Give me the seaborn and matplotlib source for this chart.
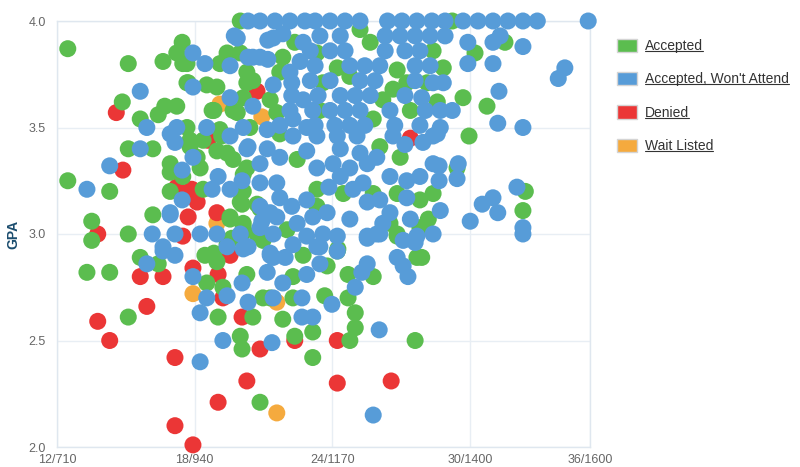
import pandas as pd
import seaborn as sns
import matplotlib.pyplot as plt
from matplotlib.patches import Patch
from matplotlib.lines import Line2D

# (SAT-scale score, GPA)
wait_listed = [(982, 3.61), (1052, 3.55), (977, 3.05), (937, 2.72), (1077, 2.68), (1077, 2.16)]

denied = [(809, 3.57), (820, 3.30), (778, 3.00), (778, 2.59), (798, 2.50), (849, 2.80), (887, 2.80),
          (860, 2.66), (907, 2.42), (907, 2.10), (937, 2.01), (979, 2.21), (1027, 2.31), (1049, 2.46),
          (1019, 2.61), (937, 2.84), (979, 2.81), (999, 2.90), (910, 3.22), (935, 3.21), (929, 3.08),
          (944, 3.15), (977, 3.10), (962, 3.44), (1044, 3.67), (920, 2.99), (987, 2.70), (1107, 2.50),
          (1178, 2.50), (1178, 2.30), (1268, 2.31), (1300, 3.45)]

accepted = [
    (728, 3.87), (829, 3.80), (819, 3.62), (849, 3.54), (879, 3.56), (890, 3.60), (910, 3.60), (887, 3.81),
    (919, 3.90), (910, 3.85), (927, 3.80), (929, 3.71), (960, 3.70), (977, 3.69), (969, 3.58), (829, 3.40),
    (870, 3.40), (728, 3.25), (798, 3.20), (768, 3.06), (870, 3.09), (899, 3.33), (899, 3.29), (899, 3.20),
    (927, 3.50), (932, 3.41), (944, 3.36), (949, 3.31), (985, 3.46), (994, 3.38), (1004, 3.35), (1011, 3.57),
    (994, 3.85), (1016, 3.85), (1027, 3.76), (1037, 3.72), (1016, 4.00), (1019, 3.14), (1021, 3.28),
    (1049, 3.12), (1021, 3.05),
    (768, 2.97), (829, 3.00), (760, 2.82), (798, 2.82), (829, 2.61), (849, 2.89), (879, 2.86), (957, 2.90),
    (977, 2.87), (960, 2.77), (987, 2.75), (979, 2.61), (1037, 2.61), (1016, 2.52), (1019, 2.46), (1027, 2.81),
    (1049, 2.21), (1087, 2.60), (1107, 2.52), (1137, 2.54), (1137, 2.42), (1157, 2.71), (1066, 2.70),
    (1104, 2.70), (1002, 2.98), (994, 2.95), (1121, 2.90), (1104, 2.80), (999, 3.07), (1044, 3.00),
    (1019, 3.00), (1044, 3.14), (1054, 2.70),
    (1199, 2.50), (1208, 2.56), (1208, 2.63), (1196, 2.70), (1196, 2.81), (1238, 2.80), (1308, 2.50),
    (1311, 2.89), (1319, 2.89), (1278, 3.00), (1161, 2.85), (1179, 2.93),
    (1370, 4.00), (1408, 3.85), (1458, 3.90), (1388, 3.64), (1428, 3.60), (1398, 3.46), (1378, 3.31),
    (1492, 3.20), (1488, 3.11), (1345, 3.62), (1328, 3.71),
    (1107, 3.90), (920, 3.80), (982, 3.80), (1087, 3.83), (1082, 3.76), (927, 3.71), (1027, 3.71),
    (1021, 3.64), (1066, 3.63), (972, 3.58), (1004, 3.58), (1077, 3.57), (982, 3.49), (1032, 3.50),
    (1144, 3.85), (1178, 3.78), (1154, 3.71), (1199, 3.74), (1216, 3.96), (1233, 3.90), (1271, 3.68),
    (1294, 3.71), (1278, 3.77), (1338, 3.86), (1355, 3.78), (1149, 3.58), (1238, 3.54), (1300, 3.58),
    (1254, 3.63),
    (932, 3.44), (954, 3.44), (977, 3.39), (1027, 3.31), (1082, 3.47), (1111, 3.35), (954, 3.21),
    (1021, 3.20), (1016, 3.15), (920, 3.27), (999, 3.08), (1021, 3.03), (1094, 3.02), (972, 2.91),
    (1054, 2.97),
    (1249, 3.41), (1283, 3.36), (1144, 3.21), (1188, 3.19), (1238, 3.19), (1278, 3.19), (1316, 3.16),
    (1338, 3.19), (1144, 3.13), (1266, 3.05), (1316, 3.03), (1330, 3.07), (1278, 2.99), (1178, 2.92),
]

wont_attend = [
    (849, 3.67), (860, 3.50), (899, 3.47), (910, 3.50), (907, 3.43), (849, 3.40), (798, 3.32), (760, 3.21),
    (937, 3.85), (957, 3.80), (999, 3.79), (937, 3.69), (999, 3.64), (1037, 3.60), (960, 3.50), (937, 3.36),
    (919, 3.30), (919, 3.16), (899, 3.10), (979, 3.27), (969, 3.21), (999, 3.21), (1019, 3.25), (999, 3.46),
    (1021, 3.50), (1011, 3.92), (1029, 4.00), (1049, 4.00), (1071, 3.70), (1062, 3.91), (1037, 3.83),
    (1029, 3.41),
    (869, 3.00), (907, 3.00), (949, 3.00), (887, 2.94), (907, 2.90), (860, 2.86), (937, 2.80), (960, 2.70),
    (949, 2.63), (994, 2.71), (1019, 2.77), (1029, 2.68), (987, 2.50), (1069, 2.49), (949, 2.40),
    (1061, 2.82), (1071, 2.70), (1087, 2.77), (1119, 2.70), (1127, 2.81), (1119, 2.61), (1137, 2.61),
    (1149, 2.94), (1149, 2.86), (1169, 2.67), (1178, 2.92), (1029, 2.94), (1066, 2.90), (1091, 2.89),
    (1104, 2.95), (1016, 3.00), (899, 3.09), (977, 3.00), (1071, 3.00), (1071, 2.89), (1052, 3.06),
    (1066, 3.10), (887, 2.92), (1021, 2.93),
    (1208, 2.75), (1219, 2.82), (1228, 2.86), (1228, 2.98), (1249, 3.00), (1278, 2.89), (1288, 2.85),
    (1296, 2.80), (1308, 2.96), (1338, 3.00), (1248, 2.55), (1238, 2.15), (1488, 3.00),
    (1388, 4.00), (1413, 4.00), (1438, 4.00), (1463, 4.00), (1488, 4.00), (1512, 4.00), (1597, 4.00),
    (1396, 3.90), (1438, 3.90), (1450, 3.93), (1488, 3.88), (1396, 3.80), (1438, 3.80), (1558, 3.78),
    (1547, 3.73), (1448, 3.67), (1446, 3.52), (1488, 3.50), (1380, 3.33), (1378, 3.26), (1348, 3.32),
    (1348, 3.25), (1478, 3.22), (1438, 3.17), (1420, 3.14), (1446, 3.10), (1400, 3.06), (1488, 3.03),
    (1370, 3.58), (1355, 3.71), (1338, 3.71), (1319, 3.64), (1350, 3.50), (1338, 3.46),
    (1006, 3.93), (1071, 3.92), (1087, 3.94), (1121, 3.90), (1029, 3.83), (1049, 3.83), (1062, 3.82),
    (1116, 3.81), (1099, 3.76), (1102, 3.71), (1102, 3.65), (1099, 3.58), (1121, 3.63), (1137, 3.58),
    (1061, 3.49), (1082, 3.51), (1104, 3.54), (1127, 3.50),
    (1074, 4.00), (1099, 4.00), (1124, 4.00), (1141, 4.00), (1166, 4.00), (1191, 4.00), (1216, 4.00),
    (1262, 4.00), (1286, 4.00), (1311, 4.00), (1336, 4.00), (1358, 4.00),
    (1149, 3.93), (1183, 3.93), (1258, 3.93), (1283, 3.93), (1308, 3.93), (1333, 3.93), (1358, 3.93),
    (1133, 3.86), (1166, 3.86), (1191, 3.86), (1258, 3.86), (1291, 3.86), (1316, 3.86),
    (1141, 3.79), (1199, 3.79), (1224, 3.79), (1249, 3.79), (1308, 3.79), (1333, 3.79),
    (1133, 3.72), (1166, 3.72), (1216, 3.72), (1241, 3.72), (1308, 3.72),
    (1146, 3.65), (1183, 3.65), (1208, 3.65), (1233, 3.65), (1291, 3.65),
    (1166, 3.58), (1191, 3.58), (1216, 3.58), (1266, 3.58), (1325, 3.58), (1350, 3.58),
    (1141, 3.51), (1174, 3.51), (1199, 3.51), (1224, 3.51), (1274, 3.51), (1316, 3.51),
    (1027, 3.40), (1049, 3.33), (1061, 3.40), (1082, 3.36), (1104, 3.46), (1127, 3.39), (1049, 3.24),
    (1049, 3.13), (1077, 3.24), (1082, 3.17), (1102, 3.13), (1127, 3.16), (1049, 3.03), (1077, 3.08),
    (1111, 3.05), (1127, 2.99), (994, 2.94), (1027, 2.94), (1066, 2.91), (1144, 2.94),
    (1144, 3.46), (1178, 3.46), (1211, 3.46), (1271, 3.46), (1345, 3.47), (1321, 3.43), (1338, 3.33),
    (1144, 3.31), (1171, 3.33), (1199, 3.31), (1228, 3.33), (1244, 3.36), (1266, 3.27), (1294, 3.25),
    (1316, 3.27), (1164, 3.22), (1204, 3.21), (1228, 3.15), (1249, 3.16), (1294, 3.17), (1350, 3.11),
    (1137, 3.08), (1161, 3.10), (1199, 3.07), (1266, 3.10), (1154, 3.00), (1178, 2.99), (1228, 2.99),
    (1244, 3.00), (1288, 2.97), (1311, 2.99),
    (1216, 3.38), (1183, 3.27), (1254, 3.05), (1291, 3.42), (1183, 3.40), (1221, 3.24), (1300, 3.07),
]

legend_order = ["Accepted", "Accepted, Won't Attend", "Denied", "Wait Listed"]
colors = {"Accepted": "#5bbd4f", "Accepted, Won't Attend": "#579cd8",
          "Denied": "#eb3636", "Wait Listed": "#f5aa3e"}

tick_sat = [710, 940, 1170, 1400, 1600]
tick_labels = ["12/710", "18/940", "24/1170", "30/1400", "36/1600"]
gpa_ticks = [2.0, 2.5, 3.0, 3.5, 4.0]

# drawing order: later groups sit on top
frames = []
for name, pts in [("Wait Listed", wait_listed), ("Denied", denied),
                  ("Accepted", accepted), ("Accepted, Won't Attend", wont_attend)]:
    df = pd.DataFrame(pts, columns=["SAT", "GPA"])
    df["status"] = name
    frames.append(df)
data = pd.concat(frames, ignore_index=True)

sns.set_style("white")
plt.rcParams['font.family'] = ['Liberation Sans', 'DejaVu Sans']

fig = plt.figure(figsize=(8, 4.67), dpi=100)
ax = fig.add_axes([57 / 800, 1 - 447 / 467, (590 - 57) / 800, (447 - 21) / 467])

sns.scatterplot(data=data, x="SAT", y="GPA", hue="status", palette=colors,
                s=150, linewidth=0, alpha=1, legend=False, ax=ax, zorder=3)
for c in ax.collections:
    c.set_clip_on(False)

ax.set_xlim(710, 1600)
ax.set_ylim(2.0, 4.0)
ax.set_xticks(tick_sat)
ax.set_xticklabels(tick_labels)
ax.set_yticks(gpa_ticks)
ax.set_yticklabels([f"{v:.1f}" for v in gpa_ticks])
ax.grid(True, color="#e8eef4", linewidth=1)
ax.set_axisbelow(True)
for sp in ax.spines.values():
    sp.set_color("#dfe7ef")
    sp.set_linewidth(1)
ax.tick_params(length=0, labelsize=9, labelcolor="#666666")
ax.tick_params(axis="y", pad=8)
ax.tick_params(axis="x", pad=5)
for lab in ax.get_yticklabels():
    lab.set_verticalalignment("center_baseline")

ax.set_xlabel("")
ax.set_ylabel("GPA", fontsize=10, fontweight="bold", color="#1b4d6e")
ax.yaxis.set_label_coords(-0.068, 0.5)

handles = [Patch(facecolor=colors[n], edgecolor="#d4d4d4", linewidth=1) for n in legend_order]
leg = fig.legend(handles, legend_order, loc="upper left", bbox_to_anchor=(0.755, 0.944),
                 frameon=False, fontsize=10, handlelength=1.5, handleheight=1.1,
                 handletextpad=0.55, labelspacing=1.37)
for t in leg.get_texts():
    t.set_color("#333333")

# underline legend labels like links
fig.canvas.draw()
renderer = fig.canvas.get_renderer()
W, H = fig.get_size_inches() * fig.dpi
for t in leg.get_texts():
    bb = t.get_window_extent(renderer)
    yline = (bb.y0 + 2) / H
    fig.add_artist(Line2D([bb.x0 / W, bb.x1 / W], [yline, yline],
                          transform=fig.transFigure, color="#333333", linewidth=0.8))

fig.savefig("out.png", dpi=100)
